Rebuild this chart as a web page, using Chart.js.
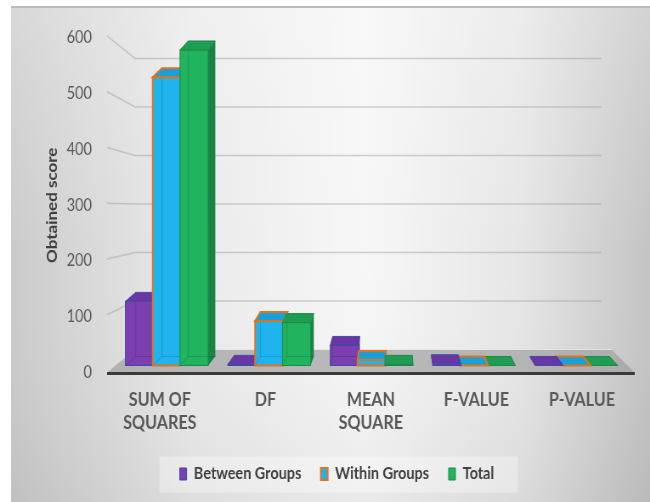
<!DOCTYPE html>
<html>
<head>
<meta charset="utf-8">
<title>ANOVA scores</title>
<script src="https://cdn.jsdelivr.net/npm/chart.js@4.4.1/dist/chart.umd.min.js"></script>
<style>
html, body { margin: 0; padding: 0; background: #ffffff; }
#box { width: 650px; height: 502px; overflow: hidden; }
/* the chart is laid out wider and squeezed back, which gives the tall narrow lettering */
#anovaChart { transform: scaleX(0.8497); transform-origin: 0 0; }
</style>
</head>
<body>
<div id="box"><canvas id="anovaChart" width="765" height="502"></canvas></div>
<script>
// ===== data =====
const categories = [["SUM OF", "SQUARES"], "DF", ["MEAN", "SQUARE"], "F-VALUE", "P-VALUE"];
const betweenGroups = [115, 2, 36, 3, 0.05];
const withinGroups = [517, 80, 10, 0, 0];
const totalScores = [566, 77, 2, 0, 0];
const yMin = 0;
const yMax = 600;
const yStep = 100;

const FONT = "Lato, 'Open Sans', sans-serif";

// face colours for the 3d columns
const faces = [
    { front: "#7b3fb0", top: "#6a36a6", side: "#552c8a", edge: "#3f4ba0", edgeW: 1 },
    { front: "#1fb4ee", top: "#18a0da", side: "#1489bd", edge: "#e0731f", edgeW: 2 },
    { front: "#22b35f", top: "#1f9e53", side: "#1a8446", edge: "#1d8a4b", edgeW: 1 }
];

// perspective: depth pushes points up and towards the vanishing x
const VX = 465;
const K = 0.00423;
const BAR_DEPTH = 9;
const FLOOR_DEPTH = 23;
const SEAT = 7;
function lean(x, d) { return K * d * (VX - x); }

function poly(ctx, pts, fill) {
    ctx.beginPath();
    ctx.moveTo(pts[0][0], pts[0][1]);
    for (let i = 1; i < pts.length; i++) ctx.lineTo(pts[i][0], pts[i][1]);
    ctx.closePath();
    ctx.fillStyle = fill;
    ctx.fill();
}

function drawColumn(ctx, el, f) {
    const d = BAR_DEPTH;
    const shift = lean(el.x, SEAT);
    const x0 = el.x - el.width / 2 + shift;
    const x1 = el.x + el.width / 2 + shift;
    const yTop = Math.min(el.y, el.base) - SEAT;
    const yBase = el.base - SEAT;
    const dl = lean(x0, d);
    const dr = lean(x1, d);

    // side face
    if (dr > 0) {
        poly(ctx, [[x1, yTop], [x1, yBase], [x1 + dr, yBase - d], [x1 + dr, yTop - d]], f.side);
    } else if (dl < 0) {
        poly(ctx, [[x0, yTop], [x0, yBase], [x0 + dl, yBase - d], [x0 + dl, yTop - d]], f.side);
    }

    // front face
    if (yBase - yTop > 0.5) {
        ctx.fillStyle = f.front;
        ctx.fillRect(x0, yTop, x1 - x0, yBase - yTop);
        // back edges showing through
        if (yBase - yTop > d) {
            ctx.strokeStyle = "rgba(0,0,0,0.13)";
            ctx.lineWidth = 1;
            ctx.beginPath();
            ctx.moveTo(x0 + dl, yTop - d + 2);
            ctx.lineTo(x0 + dl, yBase - d);
            ctx.lineTo(x1 + dr, yBase - d);
            ctx.moveTo(x0, yBase);
            ctx.lineTo(x0 + dl, yBase - d);
            ctx.stroke();
        }
        ctx.strokeStyle = f.edge;
        ctx.lineWidth = f.edgeW;
        ctx.strokeRect(x0, yTop, x1 - x0, yBase - yTop);
    }

    // top face
    poly(ctx, [[x0, yTop], [x1, yTop], [x1 + dr, yTop - d], [x0 + dl, yTop - d]], f.top);
    ctx.strokeStyle = f.edge;
    ctx.lineWidth = f.edgeW;
    ctx.stroke();
}

// ===== background panel and legend panel =====
const panel = {
    id: "panel",
    beforeDraw(chart) {
        const { ctx, width, height } = chart;
        const left = 13;
        ctx.save();
        ctx.fillStyle = "#ffffff";
        ctx.fillRect(0, 0, width, height);

        const g = ctx.createLinearGradient(left, 0, width, 0);
        g.addColorStop(0, "#cbcbcb");
        g.addColorStop(0.28, "#eaeaea");
        g.addColorStop(0.55, "#f7f7f7");
        g.addColorStop(0.8, "#e6e6e6");
        g.addColorStop(1, "#c4c4c4");
        ctx.fillStyle = g;
        ctx.fillRect(left, 6, width - left, height - 6);

        const v = ctx.createLinearGradient(0, 6, 0, height);
        v.addColorStop(0, "rgba(255,255,255,0.25)");
        v.addColorStop(0.5, "rgba(255,255,255,0)");
        v.addColorStop(1, "rgba(0,0,0,0.05)");
        ctx.fillStyle = v;
        ctx.fillRect(left, 6, width - left, height - 6);

        ctx.strokeStyle = "#bcbcbc";
        ctx.lineWidth = 2;
        ctx.beginPath();
        ctx.moveTo(left, 7);
        ctx.lineTo(width, 7);
        ctx.stroke();

        const hb = chart.legend && chart.legend.legendHitBoxes;
        if (hb && hb.length) {
            const last = hb[hb.length - 1];
            const l = hb[0].left - 24;
            const r = last.left + last.width + 28;
            const t = hb[0].top - 9;
            const b = hb[0].top + hb[0].height + 10;
            ctx.fillStyle = "rgba(255,255,255,0.32)";
            ctx.fillRect(l, t, r - l, b - t);
        }
        ctx.restore();
    }
};

// ===== 3d walls, floor and columns =====
const columns3d = {
    id: "columns3d",
    beforeDatasetsDraw(chart) {
        const { ctx, chartArea: a } = chart;
        const y = chart.scales.y;
        const zero = y.getPixelForValue(0);
        const backZero = zero - FLOOR_DEPTH;
        const squash = 0.87;
        const backLeft = a.left + lean(a.left, FLOOR_DEPTH);
        const backRight = a.right + lean(a.right, FLOOR_DEPTH);

        ctx.save();

        // gridlines on the side and back wall
        ctx.strokeStyle = "rgba(150,150,150,0.42)";
        ctx.lineWidth = 1.5;
        ctx.beginPath();
        y.ticks.forEach(t => {
            if (t.value === 0) return;
            const p = y.getPixelForValue(t.value);
            const by = backZero - (zero - p) * squash;
            ctx.moveTo(a.left, p - 2);
            ctx.lineTo(backLeft, by);
            ctx.lineTo(backRight - 12, by);
        });
        ctx.stroke();

        // floor
        poly(ctx, [[a.left, zero], [a.right, zero], [backRight, backZero], [backLeft, backZero]], "rgba(160,160,160,0.7)");
        ctx.strokeStyle = "rgba(235,235,235,0.8)";
        ctx.lineWidth = 1;
        ctx.beginPath();
        ctx.moveTo(backLeft, backZero);
        ctx.lineTo(backRight, backZero);
        ctx.stroke();

        // front edge of the floor
        ctx.strokeStyle = "#3a3a3a";
        ctx.lineWidth = 3;
        ctx.beginPath();
        ctx.moveTo(a.left, zero + 1);
        ctx.lineTo(a.right, zero + 1);
        ctx.stroke();

        // columns, category by category, far side first
        const metas = chart.data.datasets.map((ds, i) => chart.getDatasetMeta(i));
        categories.forEach((c, i) => {
            const cx = metas[1].data[i].x;
            const order = cx > VX ? [2, 1, 0] : [0, 1, 2];
            order.forEach(di => drawColumn(ctx, metas[di].data[i], faces[di]));
        });

        ctx.restore();
        return false;
    }
};

new Chart(document.getElementById("anovaChart"), {
    type: "bar",
    data: {
        labels: categories,
        datasets: [
            { label: "Between Groups", data: betweenGroups, backgroundColor: faces[0].front, borderColor: faces[0].edge, borderWidth: 1 },
            { label: "Within Groups", data: withinGroups, backgroundColor: faces[1].front, borderColor: faces[1].edge, borderWidth: 2 },
            { label: "Total", data: totalScores, backgroundColor: faces[2].front, borderColor: faces[2].edge, borderWidth: 1 }
        ]
    },
    options: {
        responsive: false,
        animation: false,
        events: [],
        categoryPercentage: 0.8,
        barPercentage: 1.0,
        layout: { padding: { left: 46, right: 18, top: 38, bottom: 9.5 } },
        plugins: {
            tooltip: { enabled: false },
            legend: {
                position: "bottom",
                labels: {
                    boxWidth: 8,
                    boxHeight: 12,
                    padding: 23,
                    color: "#404040",
                    font: { family: FONT, size: 17, weight: "bold" }
                }
            }
        },
        scales: {
            x: {
                grid: { display: false, drawTicks: false },
                border: { display: false },
                ticks: {
                    padding: 16,
                    color: "#595959",
                    font: { family: FONT, size: 19, weight: "bold", lineHeight: 1.22 }
                },
                afterFit(s) { s.height = 70; }
            },
            y: {
                min: yMin,
                max: yMax,
                grid: { display: false, drawTicks: false },
                border: { display: false },
                ticks: {
                    stepSize: yStep,
                    padding: 18,
                    color: "#595959",
                    font: { family: FONT, size: 17 }
                },
                title: {
                    display: true,
                    text: "Obtained score",
                    color: "#404040",
                    padding: { top: 5, bottom: 0 },
                    font: { family: FONT, size: 17, weight: "bold" }
                },
                afterFit(s) { s.width = 80; }
            }
        }
    },
    plugins: [panel, columns3d]
});
</script>
</body>
</html>
